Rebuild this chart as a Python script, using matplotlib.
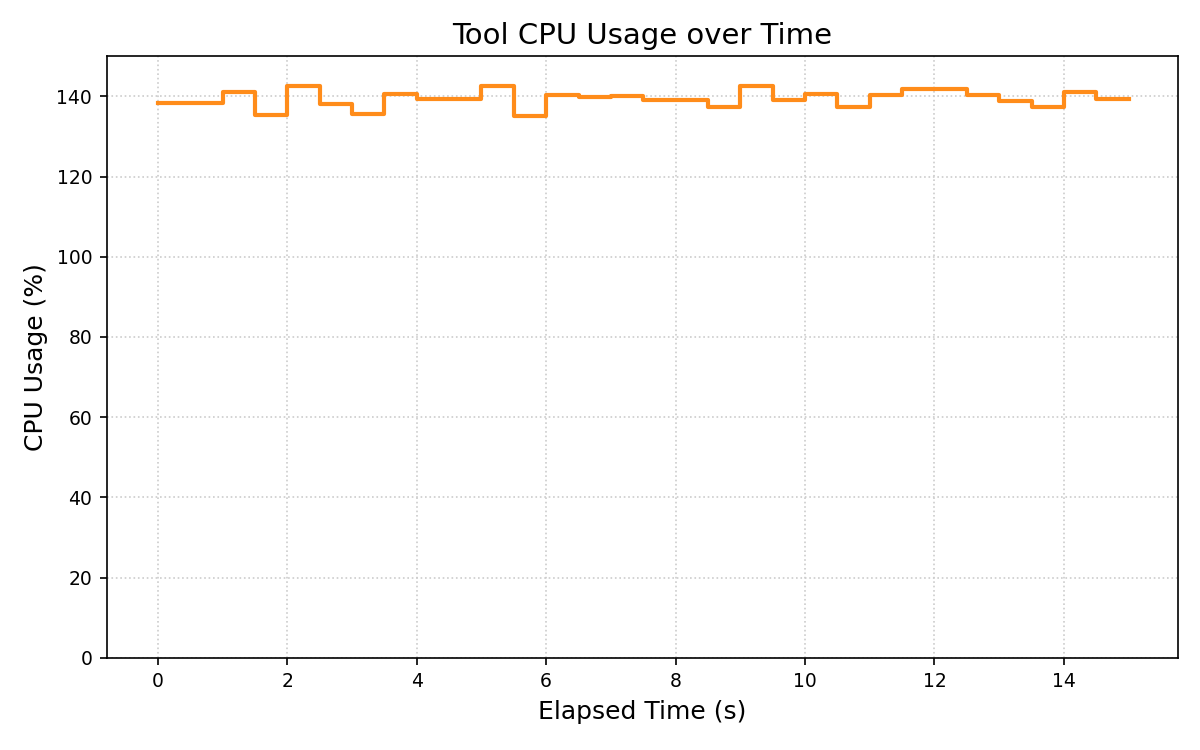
import numpy as np
import matplotlib
matplotlib.use('Agg')
import matplotlib.pyplot as plt

# Sampled every 0.5 s
elapsed = [0.0, 0.5, 1.0, 1.5, 2.0, 2.5, 3.0, 3.5, 4.0, 4.5, 5.0, 5.5, 6.0, 6.5, 7.0, 7.5,
           8.0, 8.5, 9.0, 9.5, 10.0, 10.5, 11.0, 11.5, 12.0, 12.5, 13.0, 13.5, 14.0, 14.5, 15.0]
cpu = [138.3, 138.3, 141.2, 135.4, 142.5, 138.2, 135.7, 140.5, 139.4, 139.4, 142.5, 135.1,
       140.3, 139.9, 140.2, 139.1, 139.1, 137.3, 142.6, 139.1, 140.5, 137.3, 140.3, 141.8,
       141.8, 140.3, 138.8, 137.4, 141.0, 139.4, 139.4]

fig, ax = plt.subplots(figsize=(8, 5), dpi=150)
ax.step(elapsed, cpu, where='post', color='#ff8c1a', linewidth=2)

ax.set_xlim(-0.79, 15.77)
ax.set_ylim(0, 150)
ax.set_title('Tool CPU Usage over Time', fontsize=14)
ax.set_xlabel('Elapsed Time (s)', fontsize=12)
ax.set_ylabel('CPU Usage (%)', fontsize=12)
ax.tick_params(labelsize=9)
ax.grid(True, linestyle=':', color='#cccccc', linewidth=0.8)

plt.subplots_adjust(left=0.089, right=0.982, top=0.925, bottom=0.123)
plt.savefig('out.png', dpi=150)
